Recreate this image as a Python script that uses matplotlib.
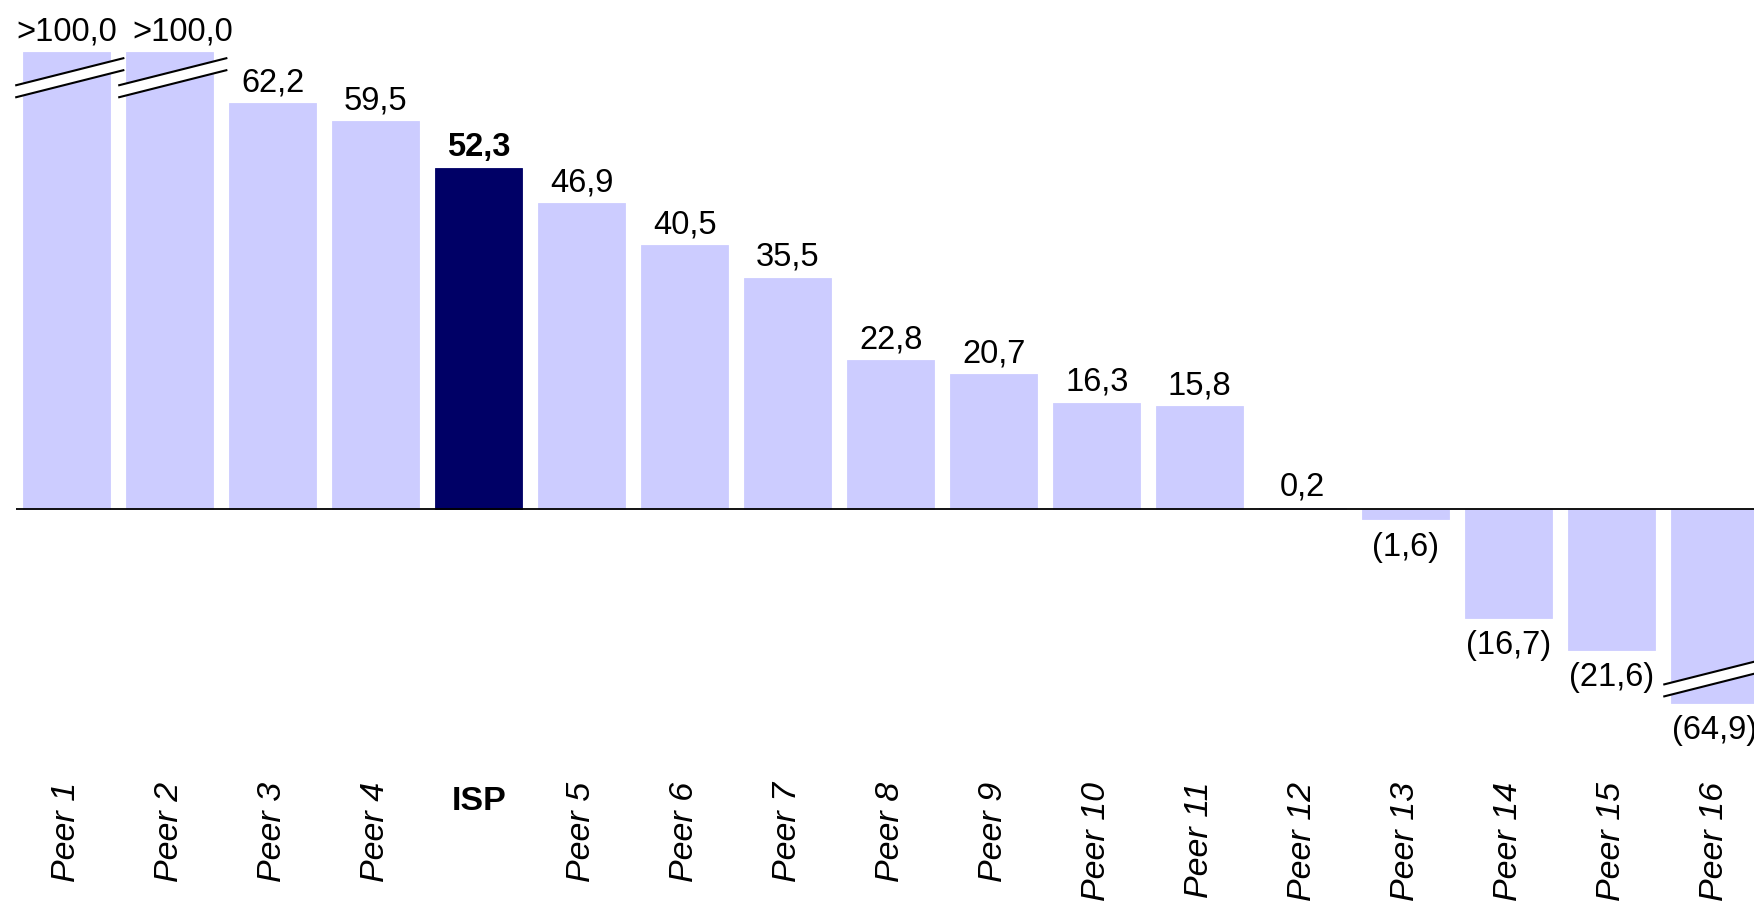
import numpy as np
import matplotlib.pyplot as plt
from matplotlib import transforms
from matplotlib.patches import Polygon

plt.rcParams['font.family'] = ['Liberation Sans', 'DejaVu Sans']

# data
names = ['Peer 1', 'Peer 2', 'Peer 3', 'Peer 4', 'ISP', 'Peer 5', 'Peer 6',
         'Peer 7', 'Peer 8', 'Peer 9', 'Peer 10', 'Peer 11', 'Peer 12',
         'Peer 13', 'Peer 14', 'Peer 15', 'Peer 16']
values = [100.0, 100.0, 62.2, 59.5, 52.3, 46.9, 40.5, 35.5, 22.8, 20.7,
          16.3, 15.8, 0.2, -1.6, -16.7, -21.6, -64.9]
over_100 = [True, True, False, False, False, False, False, False, False,
            False, False, False, False, False, False, False, False]
highlight = 'ISP'

# bars that go past these are cut with a break mark
cap_hi = 70.1
cap_lo = -29.7

light = '#CCCCFF'
dark = '#000066'

# second ">100,0" label is pushed right so it doesn't run into the first
label_nudge = {'Peer 2': 9.5}


def fmt(v, over):
    s = f'{abs(v):.1f}'.replace('.', ',')
    if over:
        s = '>' + s
    if v < 0:
        s = '(' + s + ')'
    return s


def draw_break(ax, xc, y_mid):
    # white band with two slanted black lines
    half_w = 0.52
    slope = 3.98
    gap = 0.92
    xs = np.array([xc - half_w, xc + half_w]) + 0.03
    ys = y_mid + slope * (xs - xc - 0.03)
    top = ys + gap
    bot = ys - gap
    poly = Polygon([[xs[0], bot[0]], [xs[1], bot[1]], [xs[1], top[1]], [xs[0], top[0]]],
                   closed=True, fc='white', ec='none', zorder=3, clip_on=False)
    ax.add_patch(poly)
    ax.plot(xs, top, color='black', lw=1.5, zorder=4, clip_on=False)
    ax.plot(xs, bot, color='black', lw=1.5, zorder=4, clip_on=False)


fig = plt.figure(figsize=(17.54, 9.01), dpi=100)
ax = fig.add_axes([15.7 / 1754, 1 - 760 / 901, 1 - 15.7 / 1754, 760 / 901])

x = np.arange(len(names))
shown = np.clip(values, cap_lo, cap_hi)
colors = [dark if n == highlight else light for n in names]
ax.bar(x, shown, width=0.845, color=colors, edgecolor=colors, linewidth=0.6, zorder=2)
ax.axhline(0, color='black', lw=1.3, zorder=5)

ax.set_xlim(-0.495, 16.381)
ax.set_ylim(-38.5, 78.07)
ax.axis('off')

for i, (v, h, over, n) in enumerate(zip(values, shown, over_100, names)):
    weight = 'bold' if n == highlight else 'normal'
    dx = label_nudge.get(n, 0)
    if v >= 0:
        ax.annotate(fmt(v, over), (i, h), xytext=(dx, 3.5), textcoords='offset points',
                    ha='center', va='bottom', fontsize=23.5, fontweight=weight, zorder=6)
    else:
        ax.annotate(fmt(v, over), (i, h), xytext=(dx, -9), textcoords='offset points',
                    ha='center', va='top', fontsize=23.5, fontweight=weight, zorder=6)
    if h < v:
        draw_break(ax, i, cap_hi - 3.95)
    elif h > v:
        draw_break(ax, i, cap_lo + 3.95)

# category labels below the chart
trans = transforms.blended_transform_factory(ax.transData, fig.transFigure)
for i, n in enumerate(names):
    if n == highlight:
        ax.text(i, 1 - 786 / 901, n, transform=trans, ha='center', va='top',
                fontsize=24.5, fontweight='bold')
    else:
        ax.text(i, 1 - 782 / 901, n, transform=trans, ha='center', va='top',
                rotation=90, fontsize=24.5, fontstyle='italic')

plt.savefig('out.png', dpi=100)
plt.close()
